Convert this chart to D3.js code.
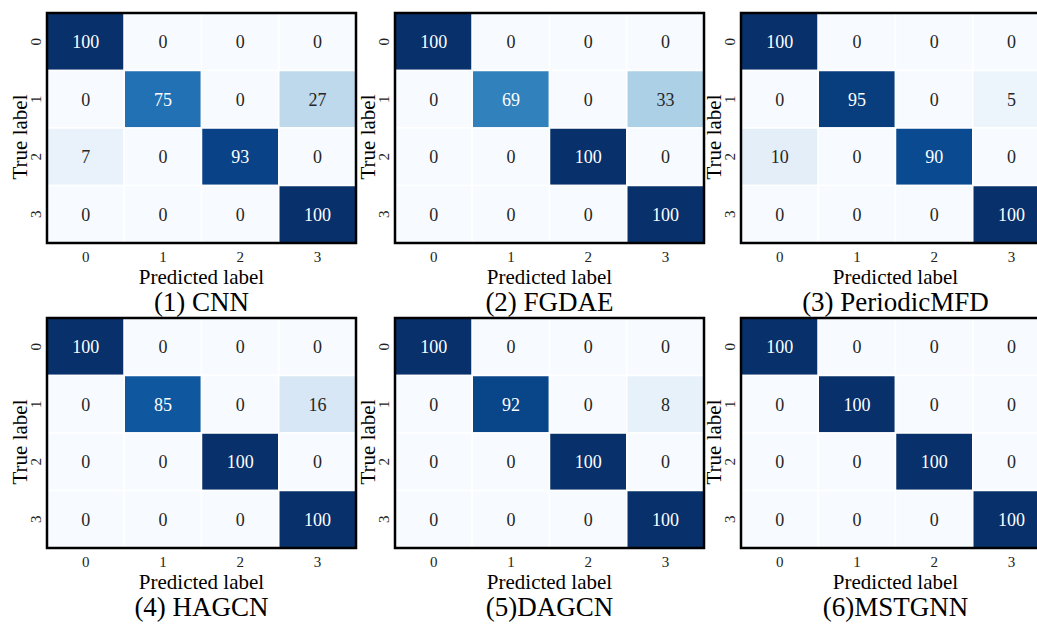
<!DOCTYPE html>
<html>
<head>
<meta charset="utf-8">
<script src="https://cdn.jsdelivr.net/npm/d3@7"></script>
<style>
    body { margin: 0; background: #fff; }
    svg { display: block; }
    svg text { font-family: 'Liberation Serif', 'Times New Roman', Times, 'DejaVu Serif', serif; }
</style>
</head>
<body>
<svg id="chart" width="1037" height="624"></svg>
<script>
'use strict';

// class labels (same on both axes)
var categories = ['0', '1', '2', '3'];

// confusion matrices, rows = true label, cols = predicted label
var cnn = [[100, 0, 0, 0], [0, 75, 0, 27], [7, 0, 93, 0], [0, 0, 0, 100]];
var fgdae = [[100, 0, 0, 0], [0, 69, 0, 33], [0, 0, 100, 0], [0, 0, 0, 100]];
var periodicMfd = [[100, 0, 0, 0], [0, 95, 0, 5], [10, 0, 90, 0], [0, 0, 0, 100]];
var hagcn = [[100, 0, 0, 0], [0, 85, 0, 16], [0, 0, 100, 0], [0, 0, 0, 100]];
var dagcn = [[100, 0, 0, 0], [0, 92, 0, 8], [0, 0, 100, 0], [0, 0, 0, 100]];
var mstgnn = [[100, 0, 0, 0], [0, 100, 0, 0], [0, 0, 100, 0], [0, 0, 0, 100]];

var titles = ['(1) CNN', '(2) FGDAE', '(3) PeriodicMFD', '(4) HAGCN', '(5)DAGCN', '(6)MSTGNN'];
var matrices = [cnn, fgdae, periodicMfd, hagcn, dagcn, mstgnn];

var PANEL_W = 309;
var PANEL_H = 230;
var COL_X = [47, 395, 741];
var ROW_Y = [13, 318];
var FONT = 'Liberation Serif, Times New Roman, serif';

var svg = d3.select('#chart').attr('font-family', FONT);
var color = d3.scaleSequential(d3.interpolateBlues).domain([0, 100]);

matrices.forEach(function (m, i) {
    var left = COL_X[i % 3];
    var top = ROW_Y[Math.floor(i / 3)];
    var g = svg.append('g').attr('transform', 'translate(' + left + ',' + top + ')');

    var x = d3.scaleBand().domain(categories).range([0, PANEL_W]);
    var y = d3.scaleBand().domain(categories).range([0, PANEL_H]);

    // flatten to cells
    var cells = [];
    m.forEach(function (row, r) {
        row.forEach(function (v, c) {
            cells.push({ r: categories[r], c: categories[c], v: v });
        });
    });

    g.selectAll('rect.cell').data(cells).enter().append('rect')
        .attr('class', 'cell')
        .attr('x', function (d) { return x(d.c); })
        .attr('y', function (d) { return y(d.r); })
        .attr('width', x.bandwidth())
        .attr('height', y.bandwidth())
        .attr('fill', function (d) { return color(d.v); })
        .attr('stroke', '#fff')
        .attr('stroke-width', 1.5);

    g.selectAll('text.val').data(cells).enter().append('text')
        .attr('class', 'val')
        .attr('x', function (d) { return x(d.c) + x.bandwidth() / 2; })
        .attr('y', function (d) { return y(d.r) + y.bandwidth() / 2; })
        .attr('dy', '0.35em')
        .attr('text-anchor', 'middle')
        .attr('font-size', 18)
        .attr('fill', function (d) { return d.v > 50 ? '#fff' : '#262626'; })
        .text(function (d) { return d.v; });

    // frame
    g.append('rect')
        .attr('width', PANEL_W).attr('height', PANEL_H)
        .attr('fill', 'none').attr('stroke', '#000').attr('stroke-width', 2.5);

    // x ticks
    g.selectAll('text.xt').data(categories).enter().append('text')
        .attr('class', 'xt')
        .attr('x', function (d) { return x(d) + x.bandwidth() / 2; })
        .attr('y', PANEL_H + 19)
        .attr('text-anchor', 'middle')
        .attr('font-size', 15)
        .attr('fill', '#222')
        .text(function (d) { return d; });

    // y ticks, rotated
    g.selectAll('text.yt').data(categories).enter().append('text')
        .attr('class', 'yt')
        .attr('transform', function (d) {
            return 'translate(-6,' + (y(d) + y.bandwidth() / 2) + ') rotate(-90)';
        })
        .attr('text-anchor', 'middle')
        .attr('font-size', 15)
        .attr('fill', '#222')
        .text(function (d) { return d; });

    g.append('text')
        .attr('transform', 'translate(-20,' + (PANEL_H / 2 + 9) + ') rotate(-90)')
        .attr('text-anchor', 'middle')
        .attr('font-size', 21)
        .text('True label');

    g.append('text')
        .attr('x', PANEL_W / 2).attr('y', PANEL_H + 41)
        .attr('text-anchor', 'middle')
        .attr('font-size', 21)
        .text('Predicted label');

    g.append('text')
        .attr('x', PANEL_W / 2).attr('y', PANEL_H + 68)
        .attr('text-anchor', 'middle')
        .attr('font-size', 27)
        .text(titles[i]);
});
</script>
</body>
</html>
